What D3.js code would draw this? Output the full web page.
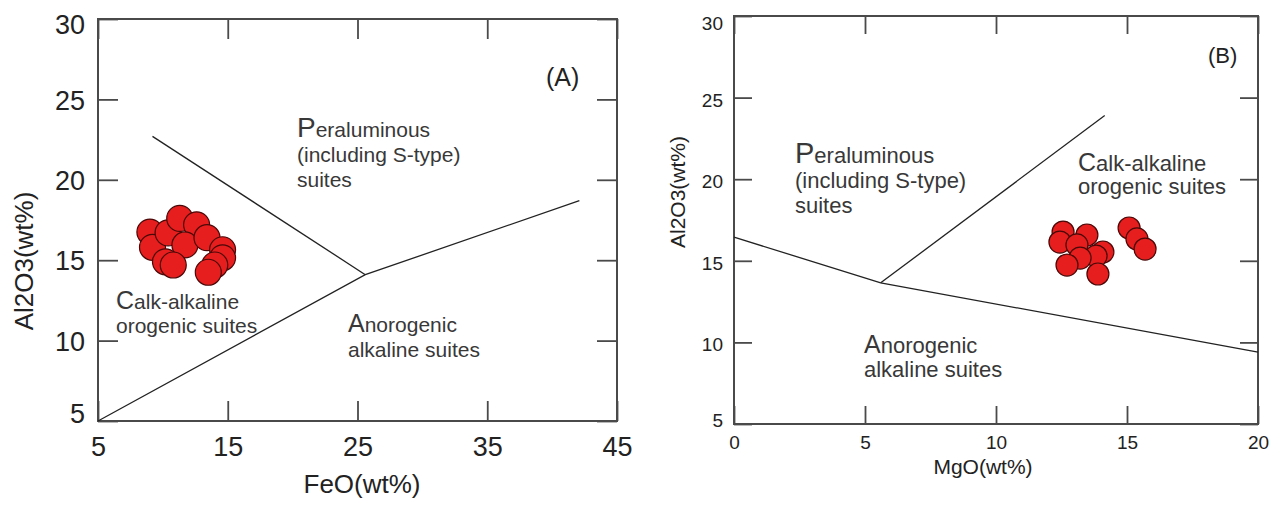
<!DOCTYPE html>
<html>
<head>
<meta charset="utf-8">
<script src="https://cdn.jsdelivr.net/npm/d3@7/dist/d3.min.js"></script>
<style>
  html, body { margin: 0; padding: 0; background: #fff; }
  svg { display: block; font-family: "Liberation Sans", Arial, sans-serif; }
</style>
</head>
<body>
<svg id="chart" width="1284" height="505"></svg>
<script>
// ---------- DATA ----------
const aXTicks = [5, 15, 25, 35, 45];
const aYTicks = [5, 10, 15, 20, 25, 30];
const bXTicks = [0, 5, 10, 15, 20];
const bYTicks = [5, 10, 15, 20, 25, 30];

// Panel A samples: FeO vs Al2O3
const feoA   = [9.0, 9.2, 10.4, 11.3, 12.6, 11.7, 13.4, 14.6, 10.2, 10.8, 14.6, 14.0, 13.5];
const al2o3A = [16.75, 15.8, 16.7, 17.6, 17.2, 15.95, 16.4, 15.65, 14.9, 14.7, 15.15, 14.7, 14.25];

// Panel B samples: MgO vs Al2O3
const mgoB   = [12.56, 13.47, 12.44, 13.09, 14.08, 13.82, 13.21, 12.71, 13.89, 15.08, 15.38, 15.69];
const al2o3B = [16.76, 16.58, 16.15, 15.97, 15.54, 15.29, 15.17, 14.74, 14.19, 17.01, 16.34, 15.72];

// Discrimination boundaries
const boundaryA1 = [[9.2, 22.7], [25.6, 14.1]];
const boundaryA2 = [[5, 5], [25.6, 14.1], [42.1, 18.7]];
const boundaryB1 = [[0, 16.45], [5.6, 13.65], [20, 9.4]];
const boundaryB2 = [[5.6, 13.65], [14.15, 23.9]];

// ---------- DRAW ----------
const svg = d3.select("#chart");
const frameColor = "#4a4a4a";
const textColor = "#383838";

function panel(cfg) {
  const g = svg.append("g");
  const x = d3.scaleLinear().domain(cfg.xDomain).range([cfg.left, cfg.right]);
  const y = d3.scaleLinear().domain(cfg.yDomain).range([cfg.bottom, cfg.top]);
  const ts = cfg.tickSize;

  const styleAxis = sel => {
    sel.select(".domain").remove();
    sel.selectAll(".tick line").attr("stroke", frameColor).attr("stroke-width", 1.8);
    sel.selectAll(".tick text").attr("fill", "#222").style("font-size", cfg.tickFont + "px")
      .style("font-family", "Liberation Sans, Arial, sans-serif");
  };

  g.append("g").attr("transform", `translate(0,${cfg.bottom})`)
    .call(d3.axisBottom(x).tickValues(cfg.xTicks).tickSize(-ts).tickPadding(cfg.xPad).tickFormat(d3.format("d")))
    .call(styleAxis);
  g.append("g").attr("transform", `translate(0,${cfg.top})`)
    .call(d3.axisTop(x).tickValues(cfg.xTicks).tickSize(-ts).tickFormat(""))
    .call(styleAxis);
  const yl = g.append("g").attr("transform", `translate(${cfg.left},0)`)
    .call(d3.axisLeft(y).tickValues(cfg.yTicks).tickSize(-ts).tickPadding(cfg.yPad).tickFormat(d3.format("d")))
    .call(styleAxis);
  yl.selectAll(".tick text").attr("dy", d => (cfg.yDy[d] !== undefined ? cfg.yDy[d] : cfg.yDyDefault) + "em");
  g.append("g").attr("transform", `translate(${cfg.right},0)`)
    .call(d3.axisRight(y).tickValues(cfg.yTicks).tickSize(-ts).tickFormat(""))
    .call(styleAxis);

  g.append("rect")
    .attr("x", cfg.left).attr("y", cfg.top)
    .attr("width", cfg.right - cfg.left).attr("height", cfg.bottom - cfg.top)
    .attr("fill", "none").attr("stroke", frameColor).attr("stroke-width", 2);

  const line = d3.line().x(d => x(d[0])).y(d => y(d[1]));
  cfg.boundaries.forEach(b => {
    g.append("path").attr("d", line(b)).attr("fill", "none")
      .attr("stroke", "#222").attr("stroke-width", 1.3);
  });

  const pts = cfg.xs.map((v, i) => [v, cfg.ys[i]]);
  g.selectAll("circle.pt").data(pts).enter().append("circle")
    .attr("class", "pt")
    .attr("cx", d => x(d[0])).attr("cy", d => y(d[1]))
    .attr("r", cfg.r)
    .attr("fill", "#e61e1e")
    .attr("stroke", "#4a0808").attr("stroke-width", 1.2);

  // axis titles
  g.append("text").attr("x", cfg.xTitle[0]).attr("y", cfg.xTitle[1])
    .attr("text-anchor", "middle").attr("fill", "#222")
    .style("font-size", cfg.titleFont + "px").text(cfg.xLabel);
  g.append("text").attr("transform", `translate(${cfg.yTitle[0]},${cfg.yTitle[1]}) rotate(-90)`)
    .attr("text-anchor", "middle").attr("fill", "#222")
    .style("font-size", cfg.titleFont + "px").text(cfg.yLabel);

  // panel tag
  g.append("text").attr("x", cfg.tag[0]).attr("y", cfg.tag[1])
    .attr("fill", "#222").style("font-size", cfg.tagFont + "px").text(cfg.tagText);

  // region labels
  cfg.regions.forEach(r => {
    r.lines.forEach((ln, i) => {
      const t = g.append("text").attr("x", r.x).attr("y", r.y + i * r.lh)
        .attr("fill", textColor).style("font-size", r.font + "px");
      if (i === 0) {
        t.append("tspan").style("font-size", r.big + "px").text(ln[0]);
        t.append("tspan").text(ln.slice(1));
      } else {
        t.text(ln);
      }
    });
  });
}

panel({
  xDomain: [5, 45], yDomain: [5, 30],
  left: 98, right: 617, top: 19, bottom: 421,
  tickSize: 20, tickFont: 27, xPad: 16, yPad: 13,
  yDyDefault: 0.36, yDy: {30: 0.55, 5: 0.05},
  xTicks: aXTicks, yTicks: aYTicks,
  boundaries: [boundaryA1, boundaryA2],
  xs: feoA, ys: al2o3A, r: 13,
  xLabel: "FeO(wt%)", yLabel: "Al2O3(wt%)", titleFont: 26,
  xTitle: [362, 493], yTitle: [33, 261],
  tag: [546, 86], tagFont: 25, tagText: "(A)",
  regions: [
    {x: 297, y: 137, lh: 25, font: 21, big: 28, lines: ["Peraluminous", "(including S-type)", "suites"]},
    {x: 116, y: 309, lh: 24, font: 21, big: 25, lines: ["Calk-alkaline", "orogenic suites"]},
    {x: 348, y: 332, lh: 25, font: 21, big: 25, lines: ["Anorogenic", "alkaline suites"]}
  ]
});

panel({
  xDomain: [0, 20], yDomain: [5, 30],
  left: 734, right: 1258, top: 16, bottom: 424,
  tickSize: 18, tickFont: 19, xPad: 12, yPad: 11,
  yDyDefault: 0.45, yDy: {30: 0.7, 5: 0.15},
  xTicks: bXTicks, yTicks: bYTicks,
  boundaries: [boundaryB1, boundaryB2],
  xs: mgoB, ys: al2o3B, r: 11,
  xLabel: "MgO(wt%)", yLabel: "Al2O3(wt%)", titleFont: 21,
  xTitle: [983, 474], yTitle: [685, 192],
  tag: [1208, 63], tagFont: 22, tagText: "(B)",
  regions: [
    {x: 795, y: 163, lh: 25, font: 22, big: 29, lines: ["Peraluminous", "(including S-type)", "suites"]},
    {x: 1078, y: 171, lh: 23, font: 22, big: 25, lines: ["Calk-alkaline", "orogenic suites"]},
    {x: 864, y: 353, lh: 24, font: 22, big: 25, lines: ["Anorogenic", "alkaline suites"]}
  ]
});
</script>
</body>
</html>
